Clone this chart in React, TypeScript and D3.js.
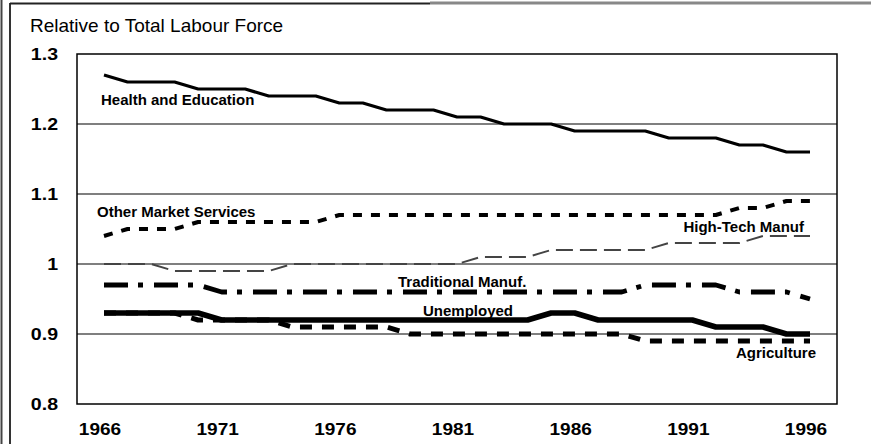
import React from "react";
import * as d3 from "d3";

const years = [1966,1967,1968,1969,1970,1971,1972,1973,1974,1975,1976,1977,1978,1979,1980,1981,1982,1983,1984,1985,1986,1987,1988,1989,1990,1991,1992,1993,1994,1995,1996];
const health = [1.27,1.26,1.26,1.26,1.25,1.25,1.25,1.24,1.24,1.24,1.23,1.23,1.22,1.22,1.22,1.21,1.21,1.20,1.20,1.20,1.19,1.19,1.19,1.19,1.18,1.18,1.18,1.17,1.17,1.16,1.16];
const otherServices = [1.04,1.05,1.05,1.05,1.06,1.06,1.06,1.06,1.06,1.06,1.07,1.07,1.07,1.07,1.07,1.07,1.07,1.07,1.07,1.07,1.07,1.07,1.07,1.07,1.07,1.07,1.07,1.08,1.08,1.09,1.09];
const highTech = [1.00,1.00,1.00,0.99,0.99,0.99,0.99,0.99,1.00,1.00,1.00,1.00,1.00,1.00,1.00,1.00,1.01,1.01,1.01,1.02,1.02,1.02,1.02,1.02,1.03,1.03,1.03,1.03,1.04,1.04,1.04];
const traditional = [0.97,0.97,0.97,0.97,0.97,0.96,0.96,0.96,0.96,0.96,0.96,0.96,0.96,0.96,0.96,0.96,0.96,0.96,0.96,0.96,0.96,0.96,0.96,0.97,0.97,0.97,0.97,0.96,0.96,0.96,0.95];
const unemployed = [0.93,0.93,0.93,0.93,0.93,0.92,0.92,0.92,0.92,0.92,0.92,0.92,0.92,0.92,0.92,0.92,0.92,0.92,0.92,0.93,0.93,0.92,0.92,0.92,0.92,0.92,0.91,0.91,0.91,0.90,0.90];
const agriculture = [0.93,0.93,0.93,0.93,0.92,0.92,0.92,0.92,0.91,0.91,0.91,0.91,0.91,0.90,0.90,0.90,0.90,0.90,0.90,0.90,0.90,0.90,0.90,0.89,0.89,0.89,0.89,0.89,0.89,0.89,0.89];

const yTicks = [0.8, 0.9, 1.0, 1.1, 1.2, 1.3];
const yTickLabels = ["0.8", "0.9", "1", "1.1", "1.2", "1.3"];
const xTicks = [1966, 1971, 1976, 1981, 1986, 1991, 1996];
const title = "Relative to Total Labour Force";

const FONT = "'Liberation Sans', Arial, Helvetica, sans-serif";

export default function App() {
  const W = 871, H = 444;
  const plot = { left: 77, right: 837, top: 54, bottom: 404 };
  const x = d3.scaleLinear().domain([1966, 1996]).range([104, 810]);
  const y = d3.scaleLinear().domain([0.8, 1.3]).range([plot.bottom, plot.top]);
  const line = (vals: number[]) =>
    d3.line<number>().x((_, i) => x(years[i])).y((v) => y(v))(vals) || "";

  const series = [
    { vals: health, width: 3.2, dash: undefined, color: "#000" },
    { vals: otherServices, width: 4, dash: "9,9", color: "#000" },
    { vals: highTech, width: 1.9, dash: "17,7", color: "#444" },
    { vals: traditional, width: 4.8, dash: "24,10,5,11", color: "#000" },
    { vals: agriculture, width: 5, dash: "12,10", color: "#000" },
    { vals: unemployed, width: 5.5, dash: undefined, color: "#000" },
  ];

  const labels = [
    { text: "Health and Education", x: 101, y: 105, anchor: "start" },
    { text: "Other Market Services", x: 97, y: 217, anchor: "start" },
    { text: "High-Tech Manuf", x: 804, y: 232, anchor: "end" },
    { text: "Traditional Manuf.", x: 398, y: 287, anchor: "start" },
    { text: "Unemployed", x: 423, y: 316, anchor: "start" },
    { text: "Agriculture", x: 816, y: 358, anchor: "end" },
  ];

  return (
    <svg
      width={W}
      height={H}
      style={{ position: "absolute", left: 0, top: 0, display: "block", background: "#fff" }}
      fontFamily={FONT}
    >
      <rect x={0} y={0} width={W} height={H} fill="#fff" />
      {/* outer frame */}
      <line x1={1.5} x2={1.5} y1={0} y2={H} stroke="#444" strokeWidth={2} />
      <line x1={10} x2={10} y1={3} y2={H} stroke="#333" strokeWidth={2} />
      <line x1={10} x2={430} y1={3.5} y2={3.5} stroke="#222" strokeWidth={2} />
      <line x1={430} x2={W} y1={3} y2={3} stroke="#888" strokeWidth={3} />

      <text x={30} y={32} fontSize={19} fill="#000">{title}</text>

      {/* gridlines */}
      {yTicks.filter((t) => t > 0.8 && t < 1.3).map((t) => (
        <line key={t} x1={plot.left} x2={plot.right} y1={y(t)} y2={y(t)} stroke="#000" strokeWidth={1.2} />
      ))}
      <rect x={plot.left} y={plot.top} width={plot.right - plot.left} height={plot.bottom - plot.top}
        fill="none" stroke="#000" strokeWidth={1.5} />

      {/* y tick labels */}
      {yTicks.map((t, i) => (
        <text key={t} transform={`translate(58,${y(t) + 6}) scale(1.15,1)`} textAnchor="end"
          fontSize={17} fontWeight="bold" fill="#000">{yTickLabels[i]}</text>
      ))}
      {/* x tick labels */}
      {xTicks.map((t) => (
        <text key={t} transform={`translate(${x(t) - 4},435) scale(1.12,1)`} textAnchor="middle"
          fontSize={17} fontWeight="bold" fill="#000">{t}</text>
      ))}

      {series.map((s, i) => (
        <path key={i} d={line(s.vals)} fill="none" stroke={s.color} strokeWidth={s.width}
          strokeDasharray={s.dash} strokeLinejoin="round" />
      ))}

      {labels.map((l) => (
        <text key={l.text} x={l.x} y={l.y} textAnchor={l.anchor as any} fontSize={15}
          fontWeight="bold" fill="#000">{l.text}</text>
      ))}
    </svg>
  );
}
